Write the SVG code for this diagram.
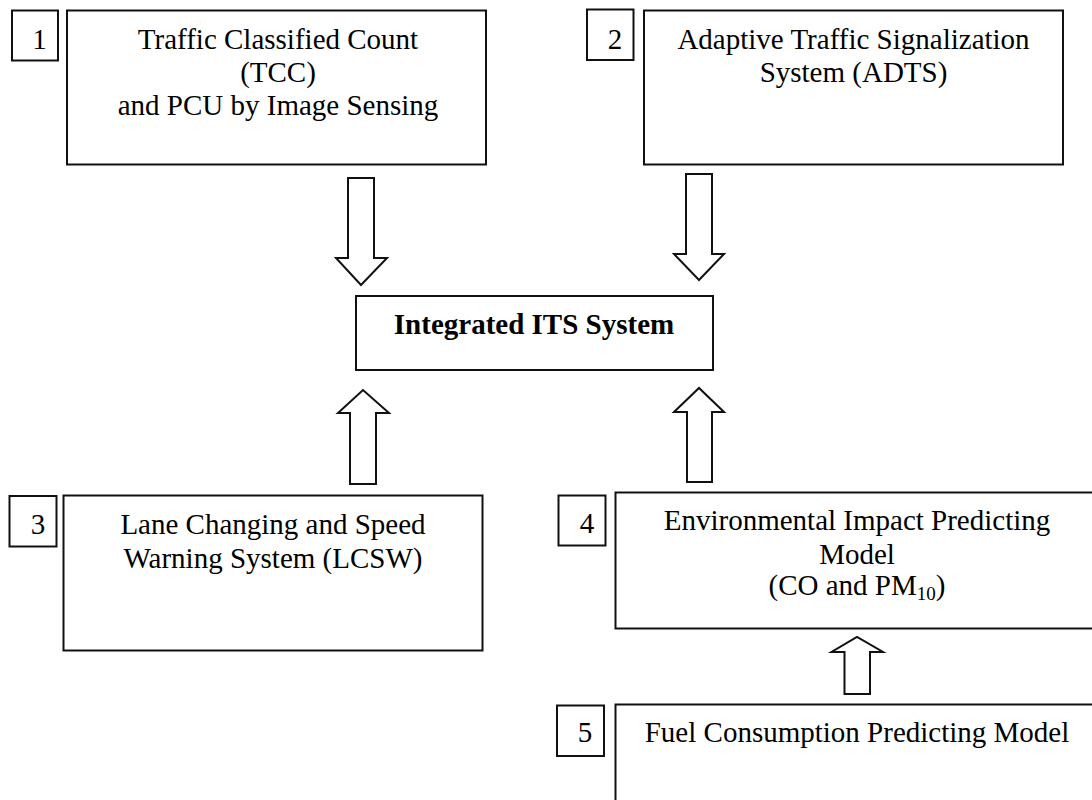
<svg xmlns="http://www.w3.org/2000/svg" width="1092" height="800" viewBox="0 0 1092 800">
  <style>
    .box { fill: #ffffff; stroke: #111111; stroke-width: 2; }
    .arrow { fill: #ffffff; stroke: #111111; stroke-width: 2; stroke-linejoin: miter; }
    .t { font-family: "Liberation Serif", "Times New Roman", serif; font-size: 29px; fill: #000000; text-anchor: middle; }
    .b { font-weight: bold; }
    .sub { font-size: 19px; }
  </style>
  <rect x="0" y="0" width="1092" height="800" fill="#ffffff"/>

  <!-- block arrows linking the subsystems to the integrated system -->
  <g id="connectors">
    <path class="arrow" d="M348,178 L374,178 L374,258 L387,258 L361,285 L336,258 L348,258 Z"/>
    <path class="arrow" d="M686,174 L712,174 L712,254 L724,254 L699,280 L674,254 L686,254 Z"/>
    <path class="arrow" d="M350,484 L376,484 L376,413 L389,413 L363,390 L338,413 L350,413 Z"/>
    <path class="arrow" d="M687,482 L712,482 L712,412 L724,412 L699,388 L674,412 L687,412 Z"/>
    <path class="arrow" d="M844.5,694 L870,694 L870,652 L883,652 L857,637 L831.5,652 L844.5,652 Z"/>
  </g>

  <g id="node-tcc">
    <rect class="box" x="12" y="10.5" width="46" height="50"/>
    <text class="t" x="39.5" y="48.5">1</text>
    <rect class="box" x="67" y="10.5" width="419" height="154"/>
    <text class="t" x="278" y="48.5">Traffic Classified Count</text>
    <text class="t" x="278" y="82">(TCC)</text>
    <text class="t" x="278" y="115">and PCU by Image Sensing</text>
  </g>

  <g id="node-adts">
    <rect class="box" x="587" y="9.5" width="46.5" height="50.5"/>
    <text class="t" x="615" y="48.5">2</text>
    <rect class="box" x="644" y="10.5" width="419" height="154"/>
    <text class="t" x="853.5" y="48.5">Adaptive Traffic Signalization</text>
    <text class="t" x="853.5" y="82">System (ADTS)</text>
  </g>

  <g id="node-its">
    <rect class="box" x="356" y="296" width="357" height="74"/>
    <text class="t b" x="534" y="333.5">Integrated ITS System</text>
  </g>

  <g id="node-lcsw">
    <rect class="box" x="9.5" y="496" width="47" height="50.5"/>
    <text class="t" x="38" y="533.5">3</text>
    <rect class="box" x="63.5" y="495.5" width="419" height="155"/>
    <text class="t" x="273" y="534">Lane Changing and Speed</text>
    <text class="t" x="273" y="568">Warning System (LCSW)</text>
  </g>

  <g id="node-environment">
    <rect class="box" x="558.5" y="495.5" width="47" height="50"/>
    <text class="t" x="587" y="532.5">4</text>
    <rect class="box" x="615.5" y="492.5" width="500" height="136"/>
    <text class="t" x="857" y="530">Environmental Impact Predicting</text>
    <text class="t" x="857" y="563.5">Model</text>
    <text class="t" x="857" y="595">(CO and PM<tspan class="sub" dy="5">10</tspan><tspan dy="-5">)</tspan></text>
  </g>

  <g id="node-fuel">
    <rect class="box" x="557" y="705.5" width="47" height="50.5"/>
    <text class="t" x="585" y="741.5">5</text>
    <rect class="box" x="615.5" y="704.5" width="500" height="120"/>
    <text class="t" x="857" y="741.5">Fuel Consumption Predicting Model</text>
  </g>
</svg>
